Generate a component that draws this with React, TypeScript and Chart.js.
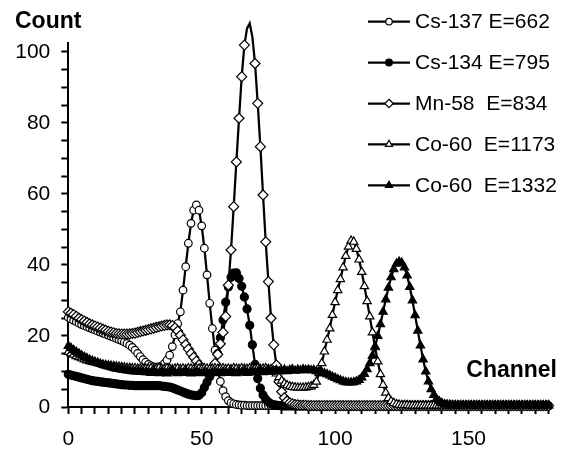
import React, { useEffect, useRef } from 'react';
import { Chart, registerables } from 'chart.js';

Chart.register(...registerables);

const FONT = "'Liberation Sans', Arial, Helvetica, sans-serif";

const seriesNames = ['Cs-137 E=662', 'Cs-134 E=795', 'Mn-58  E=834', 'Co-60  E=1173', 'Co-60  E=1332'];
const xTitle = 'Channel';
const yTitle = 'Count';
const xMajorLabels = [0, 50, 100, 150];
const yMajorLabels = [0, 20, 40, 60, 80, 100];

// counts per channel, channel 0 .. 180
const cs137 = [
  25.2, 24.8, 24.4, 24.0, 23.6, 23.2, 22.9, 22.6, 22.3, 22.0,
  21.7, 21.4, 21.1, 20.8, 20.5, 20.2, 19.9, 19.6, 19.3, 19.0,
  18.7, 18.3, 17.9, 17.4, 16.8, 16.0, 15.1, 14.2, 13.3, 12.6,
  12.0, 11.6, 11.3, 11.2, 11.3, 11.6, 12.2, 13.2, 14.6, 17.0,
  20.3, 23.5, 26.8, 32.9, 39.5, 46.1, 51.7, 55.4, 56.9, 55.4,
  51.0, 44.7, 37.2, 29.2, 22.1, 16.0, 11.0, 7.2, 4.6, 2.9,
  1.8, 1.2, 0.9, 0.7, 0.6, 0.5, 0.5, 0.4, 0.4, 0.4,
  0.4, 0.4, 0.4, 0.4, 0.4, 0.4, 0.4, 0.4, 0.4, 0.4,
  0.3, 0.3, 0.3, 0.3, 0.3, 0.3, 0.3, 0.3, 0.3, 0.3,
  0.3, 0.3, 0.3, 0.3, 0.3, 0.3, 0.3, 0.3, 0.3, 0.3,
  0.3, 0.3, 0.3, 0.3, 0.3, 0.3, 0.3, 0.3, 0.3, 0.3,
  0.3, 0.3, 0.3, 0.3, 0.3, 0.3, 0.3, 0.3, 0.3, 0.3,
  0.3, 0.3, 0.3, 0.3, 0.3, 0.3, 0.3, 0.3, 0.3, 0.3,
  0.3, 0.3, 0.3, 0.3, 0.3, 0.3, 0.3, 0.3, 0.3, 0.3,
  0.3, 0.3, 0.3, 0.3, 0.3, 0.3, 0.3, 0.3, 0.3, 0.3,
  0.3, 0.3, 0.3, 0.3, 0.3, 0.3, 0.3, 0.3, 0.3, 0.3,
  0.3, 0.3, 0.3, 0.3, 0.3, 0.3, 0.3, 0.3, 0.3, 0.3,
  0.3, 0.3, 0.3, 0.3, 0.3, 0.3, 0.3, 0.3, 0.3, 0.3,
  0.3,
];

const cs134 = [
  9.2, 9.0, 8.8, 8.6, 8.4, 8.2, 8.0, 7.8, 7.6, 7.4,
  7.3, 7.2, 7.1, 7.0, 6.9, 6.8, 6.7, 6.6, 6.5, 6.4,
  6.3, 6.2, 6.2, 6.1, 6.1, 6.0, 6.0, 6.0, 6.0, 6.0,
  6.0, 6.0, 6.0, 6.0, 6.0, 5.9, 5.8, 5.7, 5.6, 5.4,
  5.1, 4.8, 4.5, 4.2, 3.9, 3.6, 3.4, 3.3, 3.2, 3.3,
  4.0, 5.5, 7.0, 8.5, 10.0, 12.0, 15.0, 19.5, 24.5, 29.5,
  33.8, 36.5, 37.7, 37.8, 36.2, 34.0, 31.0, 27.6, 23.0, 17.5,
  12.0, 8.0, 5.3, 3.4, 2.2, 1.4, 0.9, 0.6, 0.5, 0.4,
  0.3, 0.3, 0.3, 0.3, 0.3, 0.3, 0.3, 0.3, 0.3, 0.3,
  0.3, 0.3, 0.3, 0.3, 0.3, 0.3, 0.3, 0.3, 0.3, 0.3,
  0.3, 0.3, 0.3, 0.3, 0.3, 0.3, 0.3, 0.3, 0.3, 0.3,
  0.3, 0.3, 0.3, 0.3, 0.3, 0.3, 0.3, 0.3, 0.3, 0.3,
  0.3, 0.3, 0.3, 0.3, 0.3, 0.3, 0.3, 0.3, 0.3, 0.3,
  0.3, 0.3, 0.3, 0.3, 0.3, 0.3, 0.3, 0.3, 0.3, 0.3,
  0.3, 0.3, 0.3, 0.3, 0.3, 0.3, 0.3, 0.3, 0.3, 0.3,
  0.3, 0.3, 0.3, 0.3, 0.3, 0.3, 0.3, 0.3, 0.3, 0.3,
  0.3, 0.3, 0.3, 0.3, 0.3, 0.3, 0.3, 0.3, 0.3, 0.3,
  0.3, 0.3, 0.3, 0.3, 0.3, 0.3, 0.3, 0.3, 0.3, 0.3,
  0.3,
];

const mn58 = [
  26.8, 26.4, 26.0, 25.5, 25.0, 24.6, 24.2, 23.8, 23.4, 23.1,
  22.8, 22.5, 22.2, 21.9, 21.6, 21.3, 21.1, 20.9, 20.7, 20.6,
  20.5, 20.5, 20.5, 20.6, 20.7, 20.8, 21.0, 21.2, 21.4, 21.6,
  21.8, 22.0, 22.2, 22.4, 22.6, 22.8, 23.0, 23.1, 23.1, 22.9,
  22.3, 21.4, 20.2, 18.9, 17.6, 16.3, 15.1, 14.0, 12.9, 11.9,
  11.0, 10.4, 10.1, 10.0, 10.6, 12.3, 14.8, 17.8, 21.0, 25.5,
  34.3, 44.2, 56.4, 69.0, 81.3, 93.0, 101.9, 106.6, 108.0, 104.2,
  96.7, 85.5, 73.3, 59.7, 46.5, 35.3, 25.0, 17.5, 11.8, 7.1,
  4.3, 2.6, 1.7, 1.2, 0.9, 0.7, 0.6, 0.5, 0.5, 0.5,
  0.4, 0.4, 0.4, 0.4, 0.4, 0.4, 0.4, 0.4, 0.4, 0.4,
  0.4, 0.4, 0.4, 0.4, 0.4, 0.4, 0.4, 0.4, 0.4, 0.4,
  0.4, 0.4, 0.4, 0.4, 0.4, 0.4, 0.4, 0.4, 0.4, 0.4,
  0.4, 0.4, 0.4, 0.4, 0.4, 0.4, 0.4, 0.4, 0.4, 0.4,
  0.4, 0.4, 0.4, 0.4, 0.4, 0.4, 0.4, 0.4, 0.4, 0.4,
  0.4, 0.4, 0.4, 0.4, 0.4, 0.4, 0.4, 0.4, 0.4, 0.4,
  0.4, 0.4, 0.4, 0.4, 0.4, 0.4, 0.4, 0.4, 0.4, 0.4,
  0.4, 0.4, 0.4, 0.4, 0.4, 0.4, 0.4, 0.4, 0.4, 0.4,
  0.4, 0.4, 0.4, 0.4, 0.4, 0.4, 0.4, 0.4, 0.4, 0.4,
  0.4,
];

const co60a = [
  15.5, 15.1, 14.7, 14.3, 14.0, 13.7, 13.4, 13.1, 12.9, 12.7,
  12.5, 12.3, 12.1, 11.9, 11.8, 11.7, 11.6, 11.5, 11.4, 11.3,
  11.2, 11.1, 11.0, 11.0, 10.9, 10.9, 10.8, 10.8, 10.8, 10.8,
  10.8, 10.9, 10.7, 10.8, 11.0, 10.8, 10.7, 10.9, 10.8, 10.6,
  10.8, 10.9, 10.7, 10.8, 10.6, 10.9, 10.8, 10.7, 10.9, 10.8,
  10.7, 10.9, 10.8, 10.6, 10.8, 10.9, 10.7, 10.8, 10.9, 10.7,
  10.8, 10.6, 10.9, 10.8, 10.7, 10.9, 10.8, 10.7, 10.9, 10.8,
  10.8, 10.9, 10.7, 10.8, 10.9, 10.7, 10.6, 10.2, 9.4, 8.4,
  7.4, 6.6, 6.1, 5.8, 5.6, 5.5, 5.4, 5.4, 5.4, 5.5,
  5.6, 5.8, 6.2, 7.1, 9.5, 12.3, 15.6, 18.9, 22.1, 25.9,
  29.5, 32.9, 36.0, 39.3, 42.5, 45.1, 46.8, 46.5, 44.5, 41.5,
  38.0, 34.0, 29.8, 25.5, 21.0, 16.8, 12.8, 9.2, 6.2, 4.0,
  2.5, 1.6, 1.1, 0.8, 0.6, 0.5, 0.5, 0.5, 0.4, 0.4,
  0.4, 0.4, 0.4, 0.4, 0.4, 0.4, 0.4, 0.4, 0.4, 0.4,
  0.4, 0.4, 0.4, 0.4, 0.4, 0.4, 0.4, 0.4, 0.4, 0.4,
  0.4, 0.4, 0.4, 0.4, 0.4, 0.4, 0.4, 0.4, 0.4, 0.4,
  0.4, 0.4, 0.4, 0.4, 0.4, 0.4, 0.4, 0.4, 0.4, 0.4,
  0.4, 0.4, 0.4, 0.4, 0.4, 0.4, 0.4, 0.4, 0.4, 0.4,
  0.4,
];

const co60b = [
  17.2, 16.6, 16.0, 15.5, 15.0, 14.5, 14.1, 13.7, 13.3, 13.0,
  12.7, 12.4, 12.1, 11.8, 11.6, 11.4, 11.2, 11.0, 10.8, 10.7,
  10.5, 10.4, 10.3, 10.2, 10.1, 10.0, 10.0, 9.9, 9.9, 9.8,
  9.8, 9.6, 10.1, 9.7, 9.5, 10.0, 9.8, 9.4, 9.9, 10.2,
  9.7, 9.5, 9.9, 9.6, 10.1, 9.8, 9.4, 9.7, 10.0, 9.6,
  9.5, 9.9, 9.7, 9.4, 9.8, 10.0, 9.6, 9.5, 9.9, 9.7,
  9.6, 10.0, 9.8, 9.5, 9.9, 9.7, 10.1, 9.6, 9.8, 10.0,
  9.7, 9.9, 10.2, 9.8, 10.0, 10.3, 9.9, 10.1, 10.4, 10.0,
  10.2, 10.5, 10.1, 10.4, 10.6, 10.2, 10.5, 10.3, 10.6, 10.4,
  10.5, 10.3, 10.4, 10.1, 10.0, 9.8, 9.5, 9.2, 8.9, 8.5,
  8.2, 7.8, 7.5, 7.2, 7.0, 6.9, 6.9, 7.0, 7.2, 7.6,
  8.3, 9.3, 10.6, 12.3, 14.4, 17.0, 20.0, 23.3, 26.8, 30.3,
  33.6, 36.5, 38.8, 40.3, 40.9, 40.6, 39.3, 37.0, 33.8, 30.0,
  25.8, 21.5, 17.3, 13.4, 10.0, 7.2, 5.0, 3.4, 2.3, 1.6,
  1.1, 0.8, 0.7, 0.6, 0.5, 0.5, 0.5, 0.5, 0.5, 0.5,
  0.5, 0.5, 0.5, 0.5, 0.5, 0.5, 0.5, 0.5, 0.5, 0.5,
  0.5, 0.5, 0.5, 0.5, 0.5, 0.5, 0.5, 0.5, 0.5, 0.5,
  0.5, 0.5, 0.5, 0.5, 0.5, 0.5, 0.5, 0.5, 0.5, 0.5,
  0.5,
];

const seriesValues = [cs137, cs134, mn58, co60a, co60b];
const pointStyles = ['circle', 'circle', 'rectRot', 'triangle', 'triangle'];
const pointFills = ['#ffffff', '#000000', '#ffffff', '#ffffff', '#000000'];
const pointRadii = [3.8, 4.0, 5.0, 4.8, 4.8];

function drawMarker(ctx: CanvasRenderingContext2D, style: string, x: number, y: number, r: number, fill: string) {
  ctx.beginPath();
  if (style === 'circle') {
    ctx.arc(x, y, r, 0, Math.PI * 2);
  } else if (style === 'rectRot') {
    ctx.moveTo(x, y - r);
    ctx.lineTo(x + r, y);
    ctx.lineTo(x, y + r);
    ctx.lineTo(x - r, y);
  } else {
    const a = (2 * Math.PI) / 3;
    ctx.moveTo(x, y - r);
    ctx.lineTo(x + Math.sin(a) * r, y - Math.cos(a) * r);
    ctx.lineTo(x + Math.sin(2 * a) * r, y - Math.cos(2 * a) * r);
  }
  ctx.closePath();
  ctx.fillStyle = fill;
  ctx.fill();
  ctx.lineWidth = 1.2;
  ctx.strokeStyle = '#000';
  ctx.stroke();
}

const overlayPlugin = {
  id: 'overlayText',
  afterDraw(chart: any) {
    const ctx: CanvasRenderingContext2D = chart.ctx;
    ctx.save();
    ctx.fillStyle = '#000';
    ctx.font = `bold 23px ${FONT}`;
    ctx.textBaseline = 'alphabetic';
    ctx.textAlign = 'left';
    ctx.fillText(yTitle, 15, 28);
    ctx.textAlign = 'right';
    ctx.fillText(xTitle, 557, 377);

    // legend
    const rowY0 = 21.7;
    const rowGap = 40.9;
    seriesNames.forEach((name, i) => {
      const y = rowY0 + i * rowGap;
      ctx.beginPath();
      ctx.moveTo(368, y);
      ctx.lineTo(410, y);
      ctx.lineWidth = 2.25;
      ctx.strokeStyle = '#000';
      ctx.stroke();
      drawMarker(ctx, pointStyles[i], 389, y, pointRadii[i] * 0.85, pointFills[i]);
      ctx.fillStyle = '#000';
      ctx.font = `21px ${FONT}`;
      ctx.textAlign = 'left';
      ctx.textBaseline = 'middle';
      ctx.fillText(name, 415, y + 1);
    });
    ctx.restore();
  },
};

export default function App() {
  const canvasRef = useRef<HTMLCanvasElement | null>(null);

  useEffect(() => {
    const canvas = canvasRef.current;
    if (!canvas) return;
    const datasets = seriesValues.map((vals, i) => ({
      label: seriesNames[i],
      data: vals.map((v, ch) => ({ x: ch, y: v })),
      borderColor: '#000',
      borderWidth: 2.25,
      backgroundColor: pointFills[i],
      pointStyle: pointStyles[i],
      pointRadius: pointRadii[i],
      pointBackgroundColor: pointFills[i],
      pointBorderColor: '#000',
      pointBorderWidth: 1.2,
      tension: 0,
      fill: false,
      clip: false as any,
      order: seriesValues.length - i,
    }));

    const chart = new Chart(canvas, {
      type: 'line',
      data: { datasets },
      plugins: [overlayPlugin],
      options: {
        responsive: false,
        animation: false,
        events: [],
        layout: { padding: { top: 43.3, right: 18.5, left: 0, bottom: 0 } },
        plugins: { legend: { display: false }, tooltip: { enabled: false } },
        scales: {
          x: {
            type: 'linear',
            min: 0,
            max: 180,
            border: { display: true, color: '#000', width: 2 },
            grid: {
              display: true,
              drawOnChartArea: false,
              drawTicks: true,
              tickLength: 7,
              tickWidth: 2,
              tickColor: '#000',
            },
            ticks: {
              stepSize: 5,
              maxTicksLimit: 1000,
              autoSkip: false,
              includeBounds: false,
              maxRotation: 0,
              color: '#000',
              padding: 13,
              font: { family: FONT, size: 21 },
              callback: (v: any) => (xMajorLabels.includes(Number(v)) ? String(v) : ''),
            },
            afterFit: (s: any) => {
              s.height = 43;
            },
          },
          y: {
            type: 'linear',
            min: 0,
            max: 102.4,
            border: { display: true, color: '#000', width: 2 },
            grid: {
              display: true,
              drawOnChartArea: false,
              drawTicks: true,
              tickLength: 7,
              tickWidth: 2,
              tickColor: '#000',
            },
            ticks: {
              stepSize: 5,
              maxTicksLimit: 1000,
              autoSkip: false,
              includeBounds: false,
              color: '#000',
              padding: 11,
              font: { family: FONT, size: 21 },
              callback: (v: any) => (yMajorLabels.includes(Number(v)) ? String(v) : ''),
            },
            afterFit: (s: any) => {
              s.width = 68.3;
            },
          },
        },
      },
    });
    return () => chart.destroy();
  }, []);

  return (
    <div style={{ position: 'absolute', left: 0, top: 0, width: 567, height: 450, background: '#fff' }}>
      <canvas ref={canvasRef} width={567} height={450} style={{ display: 'block' }} />
    </div>
  );
}
